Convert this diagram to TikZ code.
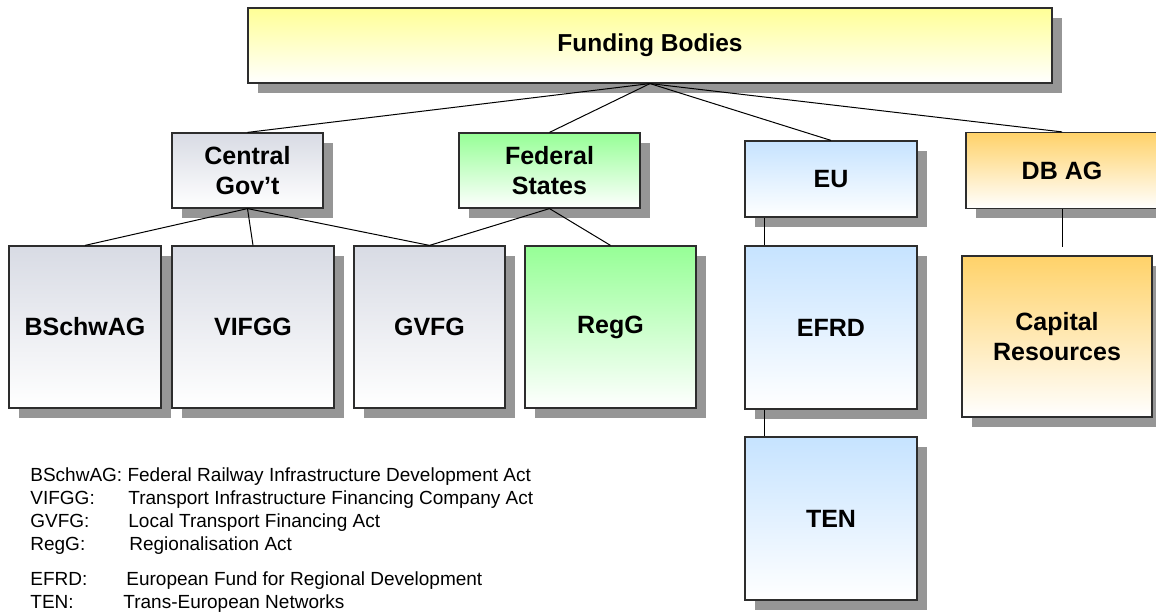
\documentclass[tikz,border=0pt]{standalone}
\usepackage{fontspec}
\setmainfont{Liberation Sans}
\usetikzlibrary{positioning, shadows}

\definecolor{fundYellow}{RGB}{255,255,150}
\definecolor{govGrey}{RGB}{216,219,228}
\definecolor{stateGreen}{RGB}{150,255,150}
\definecolor{euBlue}{RGB}{198,227,255}
\definecolor{dbOrange}{RGB}{255,210,105}
\definecolor{boxLine}{RGB}{45,45,45}
\definecolor{shadowGrey}{RGB}{150,150,150}

\begin{document}
\begin{tikzpicture}[x=1pt, y=-1pt, thick]
        % Estilos de las cajas y las uniones
        \tikzstyle{box} = [draw=boxLine, line width=1.2pt, rectangle, inner sep=0pt, align=center, bottom color=white, font=\fontsize{25}{30}\selectfont\bfseries, drop shadow={shadow xshift=10pt, shadow yshift=-10pt, fill=shadowGrey, opacity=1}]
        \tikzstyle{head} = [box, minimum height=75pt]
        \tikzstyle{act} = [box, minimum height=162pt]
        \tikzstyle{link} = [draw=black, line width=1pt]

        \useasboundingbox (0,0) rectangle (1156,612);

        % Nodes
        \node [head, minimum width=804pt, top color=fundYellow, font=\fontsize{24.5}{28}\selectfont\bfseries] at (650,45.5) (funding) {Funding Bodies};
        \node [head, minimum width=151pt, top color=govGrey] at (247.5,170.5) (central) {Central\\Gov’t};
        \node [head, minimum width=181pt, top color=stateGreen, on grid, right=302pt of central] (federal) {Federal\\States};
        \node [head, minimum width=172pt, minimum height=76pt, top color=euBlue] at (831,179) (eu) {EU};
        \node [head, minimum width=192pt, minimum height=76pt, top color=dbOrange] at (1062,170.5) (dbag) {DB AG};

        \node [act, minimum width=152pt, top color=govGrey] at (85,327) (bschwag) {BSchwAG};
        \node [act, minimum width=162pt, top color=govGrey, on grid, right=168pt of bschwag] (vifgg) {VIFGG};
        \node [act, minimum width=151pt, top color=govGrey, on grid, right=176.5pt of vifgg] (gvfg) {GVFG};
        \node [act, minimum width=171pt, top color=stateGreen, on grid, right=181pt of gvfg] (regg) {RegG};
        \node [act, minimum width=172pt, minimum height=163pt, top color=euBlue] at (831,327.5) (efrd) {EFRD};
        \node [act, minimum width=172pt, minimum height=163pt, top color=euBlue, on grid, below=191pt of efrd] (ten) {TEN};
        \node [act, minimum width=190pt, minimum height=161pt, top color=dbOrange] at (1057,336.5) (capital) {Capital\\Resources};
        \node [coordinate, on grid, below=38pt of dbag.south] (capitalTop) {};

        % Leyenda
        \node [anchor=north west, inner sep=0pt, align=left, font=\fontsize{19}{23}\selectfont] at (30,467) (legend) {%
          BSchwAG: Federal Railway Infrastructure Development Act\\
          \makebox[98pt][l]{VIFGG:}Transport Infrastructure Financing Company Act\\
          \makebox[98pt][l]{GVFG:}Local Transport Financing Act\\
          \makebox[99pt][l]{RegG:}Regionalisation Act\\[12pt]
          \makebox[96pt][l]{EFRD:}European Fund for Regional Development\\
          \makebox[93pt][l]{TEN:}Trans-European Networks};

        % Lines
        \draw [link] (funding.south) -- (central.north);
        \draw [link] (funding.south) -- (federal.north);
        \draw [link] (funding.south) -- (eu.north);
        \draw [link] (funding.south) -- (dbag.north);
        \draw [link] (central.south) -- (bschwag.north);
        \draw [link] (central.south) -- (vifgg.north);
        \draw [link] (central.south) -- (gvfg.north);
        \draw [link] (federal.south) -- (gvfg.north);
        \draw [link] (federal.south) -- (regg.north);
        \draw [link] ([xshift=20pt]eu.south west) -- ([xshift=20pt]efrd.north west);
        \draw [link] ([xshift=20pt]efrd.south west) -- ([xshift=20pt]ten.north west);
        \draw [link] (dbag.south) -- (capitalTop);

      \end{tikzpicture}
\end{document}
